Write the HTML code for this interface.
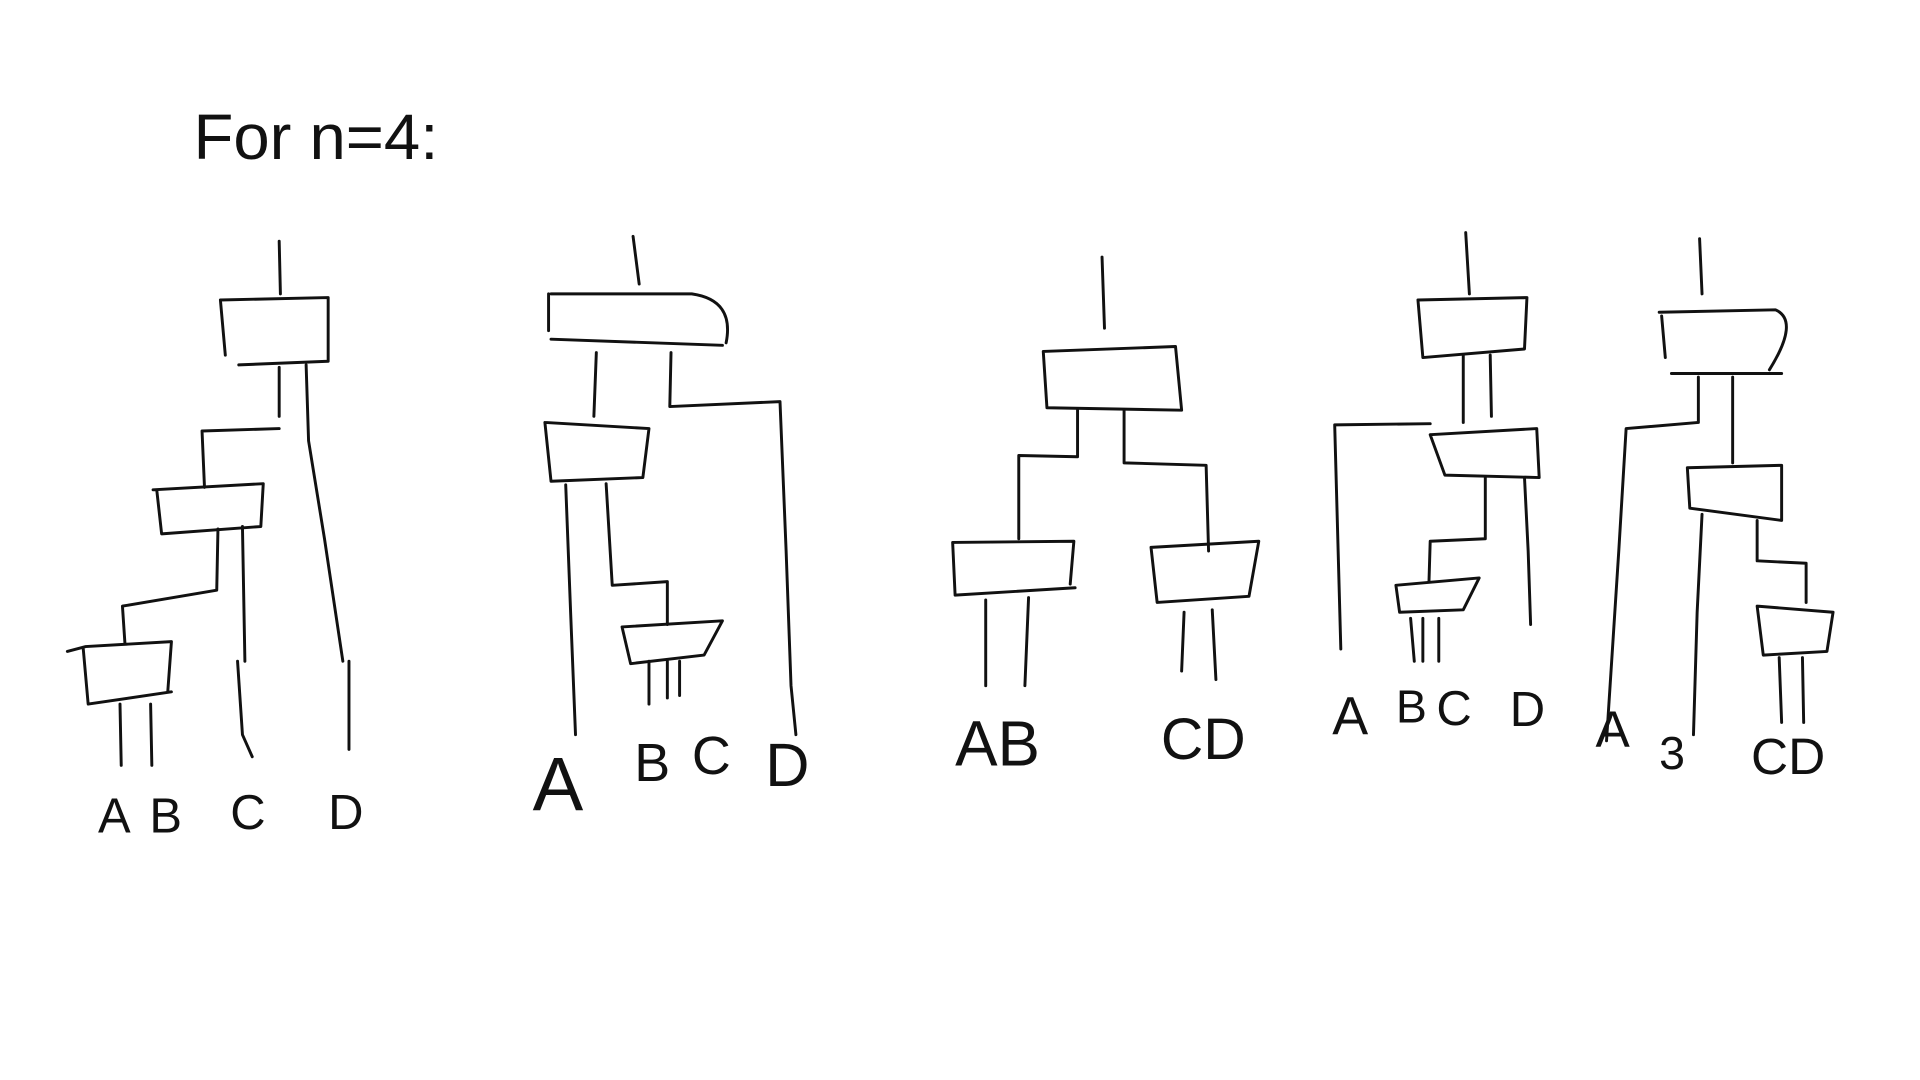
<!DOCTYPE html>
<html><head><meta charset="utf-8"><style>
html,body{margin:0;padding:0;background:#fff;width:1920px;height:1080px;overflow:hidden}
svg{display:block}
path,polyline,line{fill:none;stroke:#111;stroke-width:2.4;stroke-linecap:round;stroke-linejoin:round}
text{font-family:"Liberation Sans",sans-serif;fill:#111;font-weight:normal}
</style></head><body>
<svg width="1920" height="1080" viewBox="0 0 1568 882">
<rect width="1568" height="882" fill="#fff"/>
<text x="158" y="130" font-size="52" style="font-weight:300" textLength="200" lengthAdjust="spacingAndGlyphs">For  n=4:</text>

<g>
<path d="M228,197 L229,240"/>
<path d="M180,245 L268,243 L268,295 M268,295 L195,298 M180,245 L184,290"/>
<path d="M228,300 L228,340 M250,298 L252,360 L265,440 L280,540 M285,540 L285,612"/>
<path d="M165,352 L228,350 M165,352 L167,398"/>
<path d="M125,400 L215,395 L213,430 L132,436 L128,400"/>
<path d="M178,432 L177,482 L100,495 L102,525 M198,430 L200,540 M194,540 L198,600 L206,618"/>
<path d="M55,532 L70,528 L140,524 L137,565 M140,565 L72,575 L68,530"/>
<path d="M98,575 L99,625 M123,575 L124,625"/>
<text x="80" y="680" font-size="40">A</text>
<text x="122" y="680" font-size="40">B</text>
<text x="188" y="677" font-size="40">C</text>
<text x="268" y="677" font-size="40">D</text>
</g>

<g>
<path d="M517,193 L522,232"/>
<path d="M450,240 L565,240 Q600,245 593,280 M448,240 L448,270 M450,277 L590,282"/>
<path d="M487,288 L485,340 M548,288 L547,332 L637,328 L642,450 L646,560 L650,600"/>
<path d="M445,345 L530,350 L525,390 L450,393 L445,345"/>
<path d="M462,396 L466,500 L470,600 M495,395 L500,478 L545,475 L545,510"/>
<path d="M508,512 L590,507 L575,535 L515,542 L508,512"/>
<path d="M530,540 L530,575 M545,540 L545,570 M555,540 L555,568"/>
<text x="435" y="662" font-size="62" style="font-weight:300">A</text>
<text x="518" y="638" font-size="44">B</text>
<text x="565" y="632" font-size="44">C</text>
<text x="625" y="642" font-size="50">D</text>
</g>

<g>
<path d="M900,210 L902,268"/>
<path d="M852,287 L960,283 L965,335 L855,333 L852,287"/>
<path d="M880,335 L880,373 L832,372 L832,440 M918,335 L918,378 L985,380 L987,450"/>
<path d="M778,443 L877,442 L874,477 M878,480 L780,486 L778,443"/>
<path d="M940,447 L1028,442 L1020,487 L945,492 L940,447"/>
<path d="M805,490 L805,560 M840,488 L837,560 M967,500 L965,548 M990,498 L993,555"/>
<text x="780" y="625" font-size="52">AB</text>
<text x="948" y="620" font-size="48">CD</text>
</g>

<g>
<path d="M1197,190 L1200,240"/>
<path d="M1158,245 L1247,243 L1245,285 L1162,292 L1158,245"/>
<path d="M1195,290 L1195,345 M1217,290 L1218,340"/>
<path d="M1090,347 L1168,346 M1090,347 L1095,530"/>
<path d="M1168,355 L1255,350 L1257,390 L1180,388 L1168,355"/>
<path d="M1213,390 L1213,440 L1168,442 L1167,475 M1245,390 L1248,450 L1250,510"/>
<path d="M1140,478 L1208,472 L1195,498 L1143,500 L1140,478"/>
<path d="M1152,505 L1155,540 M1162,505 L1162,540 M1175,505 L1175,540"/>
<text x="1088" y="600" font-size="44" style="font-weight:300">A</text>
<text x="1140" y="590" font-size="38">B</text>
<text x="1173" y="592" font-size="40">C</text>
<text x="1233" y="593" font-size="40">D</text>
</g>

<g>
<path d="M1388,195 L1390,240"/>
<path d="M1355,255 L1450,253 Q1470,262 1445,302 M1357,258 L1360,292 M1365,305 L1455,305"/>
<path d="M1387,308 L1387,345 L1328,350 L1322,450 L1312,605 M1415,308 L1415,378"/>
<path d="M1378,382 L1455,380 L1455,425 L1380,415 L1378,382"/>
<path d="M1390,420 L1386,500 L1383,600 M1435,425 L1435,458 L1475,460 L1475,492"/>
<path d="M1435,495 L1497,500 L1492,532 L1440,535 L1435,495"/>
<path d="M1453,537 L1455,590 M1472,537 L1473,590"/>
<text x="1303" y="610" font-size="42" style="font-weight:300">A</text>
<text x="1355" y="628" font-size="38">3</text>
<text x="1430" y="632" font-size="42">CD</text>
</g>
</svg>
</body></html>
